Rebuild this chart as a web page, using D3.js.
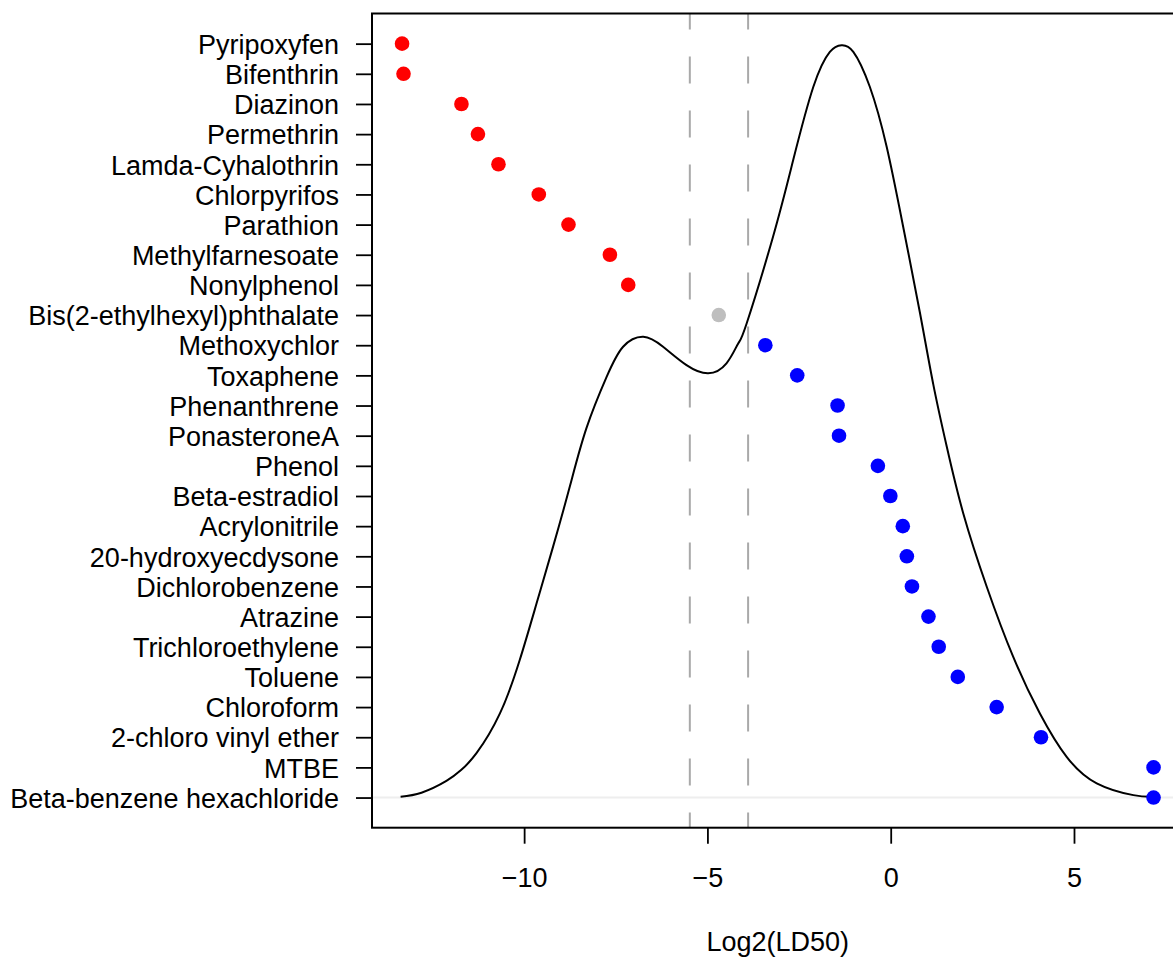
<!DOCTYPE html>
<html>
<head>
<meta charset="utf-8">
<script src="https://cdn.jsdelivr.net/npm/d3@7"></script>
<style>
  html, body { margin: 0; padding: 0; background: #ffffff; }
  svg { display: block; }
  text { font-family: "Liberation Sans", Arial, Helvetica, sans-serif; }
</style>
</head>
<body>
<div id="chart"></div>
<script>
// Compounds, listed top to bottom
const compounds = [
  "Pyripoxyfen", "Bifenthrin", "Diazinon", "Permethrin", "Lamda-Cyhalothrin",
  "Chlorpyrifos", "Parathion", "Methylfarnesoate", "Nonylphenol",
  "Bis(2-ethylhexyl)phthalate", "Methoxychlor", "Toxaphene", "Phenanthrene",
  "PonasteroneA", "Phenol", "Beta-estradiol", "Acrylonitrile",
  "20-hydroxyecdysone", "Dichlorobenzene", "Atrazine", "Trichloroethylene",
  "Toluene", "Chloroform", "2-chloro vinyl ether", "MTBE",
  "Beta-benzene hexachloride"
];

// log2(LD50) of each compound
const log2LD50 = [
  -13.33, -13.29, -11.71, -11.26, -10.70,
  -9.60, -8.79, -7.66, -7.16,
  -4.69, -3.42, -2.55, -1.45,
  -1.41, -0.35, -0.01, 0.33,
  0.44, 0.58, 1.03, 1.31,
  1.83, 2.89, 4.10, 7.17,
  7.17
];

// Toxicity class of each compound
const toxClass = [
  "high", "high", "high", "high", "high",
  "high", "high", "high", "high",
  "mid", "low", "low", "low",
  "low", "low", "low", "low",
  "low", "low", "low", "low",
  "low", "low", "low", "low",
  "low"
];
const classColors = { high: "#ff0000", mid: "#bebebe", low: "#0000ff" };

// Class boundaries on the log2 scale
const cutoffs = [-5.48, -3.89];

// Density profile of log2(LD50), rescaled to the row axis (1 = baseline)
const densityX = [
  -13.37, -12.80, -12.12, -11.72, -11.30, -10.66, -10.12, -9.66, -9.21, -8.75,
  -8.30, -7.75, -7.30, -6.75, -6.21, -5.57, -4.98, -4.48, -4.16, -3.93,
  -3.21, -2.66, -2.11, -1.66, -1.34, -1.02, -0.57, -0.11, 0.34, 0.80,
  1.16, 1.53, 1.98, 2.62, 3.34, 4.07, 4.80, 5.62, 6.62, 7.16
];
const densityY = [
  1.03, 1.16, 1.55, 1.91, 2.47, 3.79, 5.56, 7.44, 9.32, 11.33,
  13.25, 14.95, 15.95, 16.28, 15.95, 15.34, 15.07, 15.40, 16.06, 16.72,
  19.60, 22.14, 24.57, 25.73, 25.95, 25.73, 24.57, 22.58, 19.93, 17.06,
  14.71, 12.63, 10.42, 7.99, 5.67, 3.79, 2.35, 1.47, 1.08, 1.03
];

const xTicks = [-10, -5, 0, 5];
const xTitle = "Log2(LD50)";

const W = 1173, H = 957;
const fontSize = 27;
const n = compounds.length;

const plot = { left: 372, right: 1183.6, top: 13.5, bottom: 827.7 };

// 4% padding around the data range
const xmin = d3.min(log2LD50), xmax = d3.max(log2LD50);
const xpad = (xmax - xmin) * 0.04;
const x = d3.scaleLinear().domain([xmin - xpad, xmax + xpad]).range([plot.left, plot.right]);
const y = d3.scaleLinear().domain([1 - (n - 1) * 0.04, n + (n - 1) * 0.04]).range([plot.bottom, plot.top]);
const rowOf = i => n - i;

const svg = d3.select("#chart").append("svg")
  .attr("width", W).attr("height", H);

svg.append("defs").append("clipPath").attr("id", "plotClip")
  .append("rect")
  .attr("x", plot.left).attr("y", plot.top)
  .attr("width", plot.right - plot.left).attr("height", plot.bottom - plot.top);

const inner = svg.append("g").attr("clip-path", "url(#plotClip)");

// baseline of the density
inner.append("line")
  .attr("x1", plot.left).attr("x2", plot.right)
  .attr("y1", y(1)).attr("y2", y(1))
  .attr("stroke", "#eeeeee").attr("stroke-width", 2);

// class boundaries
inner.selectAll("line.cut").data(cutoffs).join("line")
  .attr("class", "cut")
  .attr("x1", d => x(d)).attr("x2", d => x(d))
  .attr("y1", plot.top).attr("y2", plot.bottom)
  .attr("stroke", "#a9a9a9").attr("stroke-width", 2)
  .attr("stroke-dasharray", "27 27").attr("stroke-dashoffset", 11);

// density curve
const densityPts = densityX.map((v, i) => [v, densityY[i]]);
inner.append("path")
  .datum(densityPts)
  .attr("fill", "none").attr("stroke", "#000").attr("stroke-width", 2)
  .attr("stroke-linejoin", "round")
  .attr("d", d3.line().x(d => x(d[0])).y(d => y(d[1])).curve(d3.curveNatural));

// compound points
inner.selectAll("circle.pt").data(compounds).join("circle")
  .attr("class", "pt")
  .attr("cx", (d, i) => x(log2LD50[i]))
  .attr("cy", (d, i) => y(rowOf(i)))
  .attr("r", 7.3)
  .attr("fill", (d, i) => classColors[toxClass[i]]);

// frame
svg.append("rect")
  .attr("x", plot.left).attr("y", plot.top)
  .attr("width", plot.right - plot.left).attr("height", plot.bottom - plot.top)
  .attr("fill", "none").attr("stroke", "#000").attr("stroke-width", 2);

// y axis with compound names
const yAxis = d3.axisLeft(y)
  .tickValues(compounds.map((d, i) => rowOf(i)))
  .tickFormat(r => compounds[n - r])
  .tickSize(16).tickPadding(17);
const gy = svg.append("g").attr("transform", `translate(${plot.left},0)`).call(yAxis);
gy.select(".domain").remove();
gy.selectAll(".tick line").attr("stroke", "#000").attr("stroke-width", 1.8);
gy.selectAll(".tick text")
  .attr("font-size", fontSize).attr("fill", "#000")
  .attr("font-family", "Liberation Sans, Arial, sans-serif")
  .attr("dy", "0.36em");

// x axis
const xAxis = d3.axisBottom(x).tickValues(xTicks).tickSize(16).tickPadding(24);
const gx = svg.append("g").attr("transform", `translate(0,${plot.bottom})`).call(xAxis);
gx.select(".domain").remove();
gx.selectAll(".tick line").attr("stroke", "#000").attr("stroke-width", 1.8);
gx.selectAll(".tick text")
  .attr("font-size", fontSize).attr("fill", "#000")
  .attr("font-family", "Liberation Sans, Arial, sans-serif");

// x title
svg.append("text")
  .attr("x", (plot.left + plot.right) / 2).attr("y", 951)
  .attr("text-anchor", "middle")
  .attr("font-size", fontSize).attr("fill", "#000")
  .text(xTitle);
</script>
</body>
</html>
